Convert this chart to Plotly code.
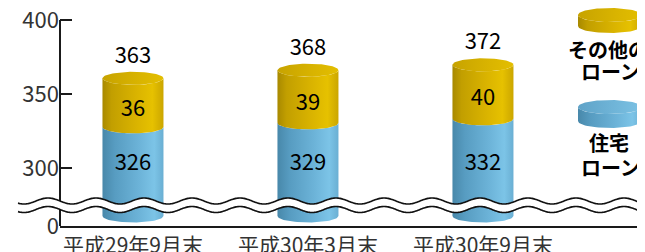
import numpy as np
import plotly.graph_objects as go

# ---- data ----
CATEGORIES = ["平成29年9月末", "平成30年3月末", "平成30年9月末"]
HOUSING = [326, 329, 332]          # 住宅ローン
OTHER = [36, 39, 40]               # その他のローン
TOTAL = [363, 368, 372]            # 合計（表示値）
Y_TICK_VALUES = [0, 300, 350, 400]
Y_TICK_LABELS = ["0", "300", "350", "400"]
LEGEND_NAMES = ["その他の<br>ローン", "住宅<br>ローン"]

# ---- layout constants ----
# the page body adds an 8px margin, so the figure is 8px smaller and all
# reference pixel positions are shifted by OFFSET.
OFFSET = 8
W, H = 645 - OFFSET, 252 - OFFSET


def fx(px):
    return px - OFFSET


def fy(py):
    return py - OFFSET


PLOT_L, PLOT_R, PLOT_T, PLOT_B = fx(60), fx(645), fy(8), fy(226)
AXIS_TOP_PX = fy(20)
Y_TOP = 400.0
PX_PER_UNIT = 1.48
Y_BOTTOM = Y_TOP - (PLOT_B - AXIS_TOP_PX) / PX_PER_UNIT   # where the broken axis shows "0"
Y_RANGE = [Y_BOTTOM, Y_TOP + (AXIS_TOP_PX - PLOT_T) / PX_PER_UNIT]

# projected (3D) scale for the cylinders
BAR_PX_PER_UNIT = 1.35
BAR_ZERO_PX = fy(567.0)
Y2_RANGE = [(BAR_ZERO_PX - PLOT_B) / BAR_PX_PER_UNIT, (BAR_ZERO_PX - PLOT_T) / BAR_PX_PER_UNIT]
BAR_BASE = 260.0   # display level of the cylinder base (broken axis)

X_RANGE = [-0.417, 2.926]
X_UNIT_PX = (PLOT_R - PLOT_L) / (X_RANGE[1] - X_RANGE[0])
RX = 30.5 / X_UNIT_PX
RY = 6.5 / BAR_PX_PER_UNIT

FONT = "Noto Sans CJK JP, Noto Sans, sans-serif"
AXIS_COLOR = '#1a1a1a'

GOLD_SIDE = [[0, '#a88900'], [0.15, '#c29f00'], [0.55, '#d9b300'], [0.82, '#e6c100'], [1, '#cba600']]
GOLD_TOP = [[0, '#c7a300'], [0.6, '#d9b400'], [1, '#e3be00']]
BLUE_SIDE = [[0, '#4888aa'], [0.2, '#579cc1'], [0.6, '#6cb3d8'], [0.85, '#7cc4e7'], [1, '#6aafd3']]
BLUE_TOP = [[0, '#5fa3c8'], [1, '#7cc2e4']]

t = np.linspace(0, np.pi, 40)


def side_poly(cx, y0, y1, rx, ry):
    xs = np.concatenate([cx - rx * np.cos(t), cx + rx * np.cos(t)])
    ys = np.concatenate([y0 - ry * np.sin(t), y1 - ry * np.sin(t)])
    return np.append(xs, xs[0]), np.append(ys, ys[0])


def ellipse(cx, cy, rx, ry):
    a = np.linspace(0, 2 * np.pi, 80)
    return cx + rx * np.cos(a), cy + ry * np.sin(a)


fig = go.Figure()

# ---- cylinders ----
for i, cat in enumerate(CATEGORIES):
    h = HOUSING[i]
    top = HOUSING[i] + OTHER[i]
    xs, ys = side_poly(i, BAR_BASE, h, RX, RY)
    fig.add_trace(go.Scatter(x=xs, y=ys, mode='lines', line=dict(width=0), fill='toself',
                             fillgradient=dict(type='horizontal', colorscale=BLUE_SIDE),
                             yaxis='y2', hoverinfo='skip', showlegend=False))
    xs, ys = side_poly(i, h, top, RX, RY)
    fig.add_trace(go.Scatter(x=xs, y=ys, mode='lines', line=dict(width=0), fill='toself',
                             fillgradient=dict(type='horizontal', colorscale=GOLD_SIDE),
                             yaxis='y2', hoverinfo='skip', showlegend=False))
    xs, ys = ellipse(i, top, RX, RY)
    fig.add_trace(go.Scatter(x=xs, y=ys, mode='lines', line=dict(width=0), fill='toself',
                             fillgradient=dict(type='horizontal', colorscale=GOLD_TOP),
                             yaxis='y2', hoverinfo='skip', showlegend=False))

# ---- value labels ----
idx = list(range(len(CATEGORIES)))
tops = [HOUSING[i] + OTHER[i] for i in idx]
label_font = dict(family=FONT, size=22, color='#000')
fig.add_trace(go.Scatter(x=idx, y=[v + 15.5 for v in tops], mode='text', text=[str(v) for v in TOTAL],
                         textfont=label_font, yaxis='y2', hoverinfo='skip', showlegend=False,
                         cliponaxis=False))
fig.add_trace(go.Scatter(x=idx, y=[(tops[i] + HOUSING[i]) / 2 - 6 for i in idx], mode='text',
                         text=[str(v) for v in OTHER], textfont=label_font, yaxis='y2',
                         hoverinfo='skip', showlegend=False, cliponaxis=False))
fig.add_trace(go.Scatter(x=idx, y=[298.5] * len(idx), mode='text', text=[str(v) for v in HOUSING],
                         textfont=label_font, yaxis='y2', hoverinfo='skip', showlegend=False,
                         cliponaxis=False))

# ---- legend icons (discs) on a pixel overlay axis pair ----
LEG = [(fy(15), fy(26), GOLD_SIDE, GOLD_TOP), (fy(107), fy(121), BLUE_SIDE, BLUE_TOP)]
for ytop, ybot, side_cs, top_cs in LEG:
    cx, rx, ry = fx(610), 32, 7
    xs = np.concatenate([cx - rx * np.cos(t), cx + rx * np.cos(t)])
    ys = np.concatenate([ybot + ry * np.sin(t), ytop + ry * np.sin(t)])
    fig.add_trace(go.Scatter(x=np.append(xs, xs[0]), y=np.append(ys, ys[0]), mode='lines',
                             line=dict(width=0), fill='toself',
                             fillgradient=dict(type='horizontal', colorscale=side_cs),
                             xaxis='x3', yaxis='y3', hoverinfo='skip', showlegend=False))
    ex, ey = ellipse(cx, ytop, rx, ry)
    fig.add_trace(go.Scatter(x=ex, y=ey, mode='lines', line=dict(width=0), fill='toself',
                             fillgradient=dict(type='horizontal', colorscale=top_cs),
                             xaxis='x3', yaxis='y3', hoverinfo='skip', showlegend=False))

annotations = []
for name, (xc, y1, y2) in zip(LEGEND_NAMES, [(608, 49.5, 71), (609, 142.5, 167)]):
    lines = name.split("<br>")
    for txt, yy, xx in zip(lines, (y1, y2), (xc, 610)):
        annotations.append(dict(x=fx(xx), y=fy(yy), xref='x3', yref='y3', text=txt, showarrow=False,
                                xanchor='center', yanchor='middle',
                                font=dict(family=FONT, size=20, color='#000', weight='bold')))


# ---- shapes: y-axis line and break marks (paper coordinates) ----
def px_to_paper(px, py):
    return (px - PLOT_L) / (PLOT_R - PLOT_L), (PLOT_B - py) / (PLOT_B - PLOT_T)


def path_from(points, close=False):
    s = "M " + " L ".join(f"{x:.5f},{y:.5f}" for x, y in points)
    return s + (" Z" if close else "")


wx = np.arange(fx(18), W + 1, 1.0)
phase = 2 * np.pi * (wx - fx(120)) / 48.0
up = fy(201.0) + 3.0 * np.cos(phase)
lo = fy(209.5) + 3.0 * np.cos(phase)
up_pts = [px_to_paper(a, b) for a, b in zip(wx, up)]
lo_pts = [px_to_paper(a, b) for a, b in zip(wx, lo)]

shapes = [
    dict(type='line', xref='paper', yref='y', x0=0, x1=0, y0=Y_BOTTOM, y1=Y_TOP,
         line=dict(color=AXIS_COLOR, width=2), layer='above'),
    dict(type='path', xref='paper', yref='paper', path=path_from(up_pts + lo_pts[::-1], close=True),
         fillcolor='white', line=dict(width=0), layer='above'),
    dict(type='path', xref='paper', yref='paper', path=path_from(up_pts),
         line=dict(color='#111', width=1.6), layer='above'),
    dict(type='path', xref='paper', yref='paper', path=path_from(lo_pts),
         line=dict(color='#111', width=1.6), layer='above'),
]

y_tickvals = [Y_BOTTOM if v == 0 else v for v in Y_TICK_VALUES]

fig.update_layout(
    width=W, height=H, autosize=False,
    margin=dict(l=PLOT_L, r=W - PLOT_R, t=PLOT_T, b=H - PLOT_B, pad=0),
    paper_bgcolor='white', plot_bgcolor='white',
    showlegend=False,
    annotations=annotations,
    shapes=shapes,
    xaxis=dict(range=X_RANGE, tickvals=idx, ticktext=CATEGORIES,
               showline=True, linecolor=AXIS_COLOR, linewidth=2, ticks='', showgrid=False,
               zeroline=False, automargin=False, ticklabeloverflow='allow',
               tickfont=dict(family=FONT, size=21, color='#333')),
    yaxis=dict(range=Y_RANGE, tickvals=y_tickvals, ticktext=Y_TICK_LABELS, ticks='inside', ticklen=12,
               tickwidth=2, tickcolor=AXIS_COLOR, showline=False,
               showgrid=False, zeroline=False, automargin=False, ticklabeloverflow='allow',
               tickfont=dict(family=FONT, size=22, color='#333')),
    yaxis2=dict(overlaying='y', range=Y2_RANGE, visible=False),
    xaxis3=dict(overlaying='x', range=[PLOT_L, PLOT_R], visible=False),
    yaxis3=dict(overlaying='y', range=[PLOT_B, PLOT_T], visible=False),
)

fig.write_html("out.html")
